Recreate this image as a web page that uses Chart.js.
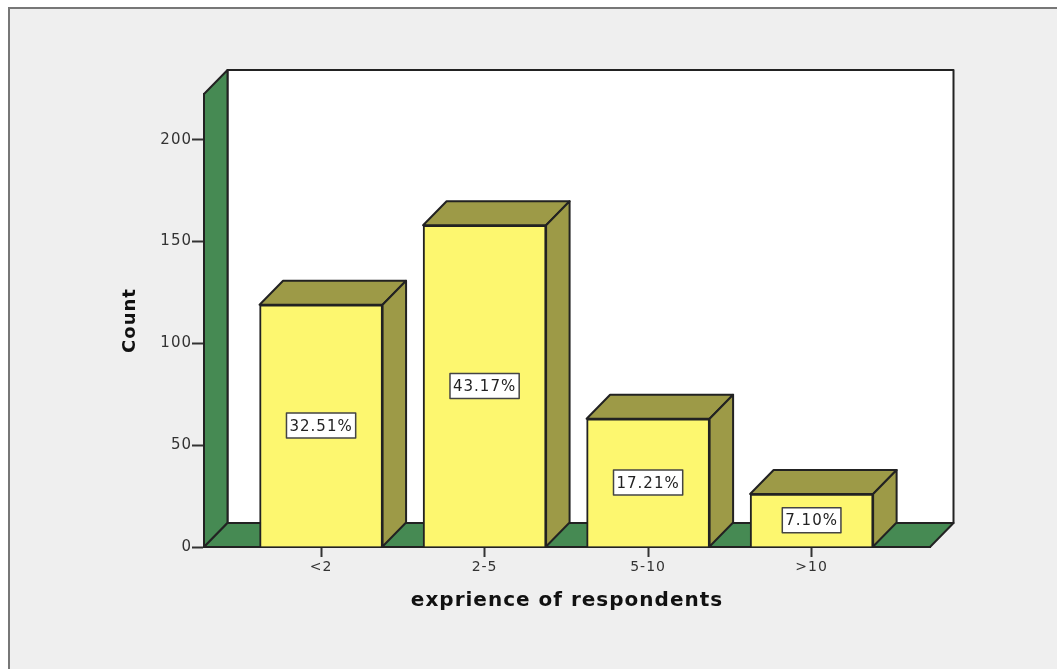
<!DOCTYPE html>
<html>
<head>
<meta charset="utf-8">
<title>exprience of respondents</title>
<script src="https://cdn.jsdelivr.net/npm/chart.js@4/dist/chart.umd.min.js"></script>
<style>
  html, body { margin: 0; padding: 0; background: #fff; overflow: hidden; }
  #frame { position: absolute; left: 8px; top: 7px; right: -4px; bottom: -4px; background: #efefef; border: 2px solid #777; }
  #wrap { position: absolute; left: 0; top: 0; width: 1057px; height: 669px; }
</style>
</head>
<body>
<div id="frame"></div>
<div id="wrap"><canvas id="chart"></canvas></div>
<script>
const categories = ['<2', '2-5', '5-10', '>10'];
const counts = [119, 158, 63, 26];
const percents = ['32.51%', '43.17%', '17.21%', '7.10%'];
const yTicks = [0, 50, 100, 150, 200];

const depthX = 23.5;
const depthY = 24;
const lineColor = '#222';

function poly(ctx, pts, fill) {
  ctx.beginPath();
  pts.forEach((p, i) => i ? ctx.lineTo(p[0], p[1]) : ctx.moveTo(p[0], p[1]));
  ctx.closePath();
  ctx.fillStyle = fill;
  ctx.fill();
  ctx.lineWidth = 2;
  ctx.strokeStyle = lineColor;
  ctx.lineJoin = 'round';
  ctx.stroke();
}

// walls and floor of the 3D box, drawn before the axes
const wallsPlugin = {
  id: 'walls',
  beforeDraw(chart) {
    const { ctx, chartArea: a } = chart;
    // the reference text is stretched sideways, a little spacing gets the widths right
    ctx.letterSpacing = '1px';
    ctx.save();
    poly(ctx, [[a.left + depthX, a.top - depthY], [a.right + depthX, a.top - depthY], [a.right + depthX, a.bottom - depthY], [a.left + depthX, a.bottom - depthY]], '#fff');
    poly(ctx, [[a.left, a.top], [a.left + depthX, a.top - depthY], [a.left + depthX, a.bottom - depthY], [a.left, a.bottom]], '#468a53');
    poly(ctx, [[a.left, a.bottom], [a.left + depthX, a.bottom - depthY], [a.right + depthX, a.bottom - depthY], [a.right, a.bottom]], '#468a53');
    ctx.restore();
  }
};

// top and side faces of the bars plus the percentage boxes
const barFacesPlugin = {
  id: 'barFaces',
  afterDatasetsDraw(chart) {
    const { ctx } = chart;
    ctx.save();
    chart.getDatasetMeta(0).data.forEach((bar, i) => {
      const left = bar.x - bar.width / 2;
      const right = bar.x + bar.width / 2;
      poly(ctx, [[left, bar.y], [left + depthX, bar.y - depthY], [right + depthX, bar.y - depthY], [right, bar.y]], '#9d9a47');
      poly(ctx, [[right, bar.y], [right + depthX, bar.y - depthY], [right + depthX, bar.base - depthY], [right, bar.base]], '#9d9a47');

      ctx.font = '15px "DejaVu Sans"';
      const w = ctx.measureText(percents[i]).width + 6;
      const h = 25;
      const cy = (bar.y + bar.base) / 2;
      ctx.fillStyle = '#fff';
      ctx.strokeStyle = '#444';
      ctx.lineWidth = 1.5;
      ctx.fillRect(bar.x - w / 2, cy - h / 2, w, h);
      ctx.strokeRect(bar.x - w / 2, cy - h / 2, w, h);
      ctx.fillStyle = '#222';
      ctx.textAlign = 'center';
      ctx.textBaseline = 'middle';
      ctx.fillText(percents[i], bar.x, cy + 1);
    });
    ctx.restore();
  }
};

new Chart(document.getElementById('chart').getContext('2d'), {
  type: 'bar',
  data: {
    datasets: [{
      data: counts.map((v, i) => ({ x: i, y: v })),
      backgroundColor: '#fdf76f',
      borderColor: lineColor,
      borderWidth: 2,
      barThickness: 123
    }]
  },
  options: {
    responsive: true,
    maintainAspectRatio: false,
    animation: false,
    layout: { padding: { top: 94, right: 127, left: 0, bottom: 0 } },
    plugins: { legend: { display: false }, tooltip: { enabled: false } },
    scales: {
      x: {
        type: 'linear',
        offset: false,
        min: -0.716,
        max: 3.724,
        afterBuildTicks: s => { s.ticks = categories.map((c, i) => ({ value: i })); },
        afterFit: s => { s.height = 122; },
        grid: { offset: false, drawOnChartArea: false, tickLength: 10, tickColor: '#333', tickWidth: 2 },
        border: { color: lineColor, width: 2 },
        ticks: {
          color: '#333',
          font: { family: '"DejaVu Sans"', size: 14 },
          padding: 2,
          maxRotation: 0,
          autoSkip: false,
          callback: v => categories[v]
        },
        title: {
          display: true,
          text: 'exprience of respondents',
          color: '#111',
          font: { family: '"DejaVu Sans"', size: 20, weight: 'bold' },
          padding: { top: 0, bottom: 56 }
        }
      },
      y: {
        min: 0,
        max: 222.5,
        afterBuildTicks: s => { s.ticks = yTicks.map(v => ({ value: v })); },
        afterFit: s => { s.width = 204; },
        grid: { drawOnChartArea: false, tickLength: 12, tickColor: '#333', tickWidth: 2 },
        border: { color: lineColor, width: 2 },
        ticks: {
          color: '#333',
          font: { family: '"DejaVu Sans"', size: 15 },
          padding: 0
        },
        title: {
          display: true,
          text: 'Count',
          color: '#111',
          font: { family: '"DejaVu Sans"', size: 18, weight: 'bold' },
          padding: { top: 120, bottom: 0 }
        }
      }
    }
  },
  plugins: [wallsPlugin, barFacesPlugin]
});
</script>
</body>
</html>
